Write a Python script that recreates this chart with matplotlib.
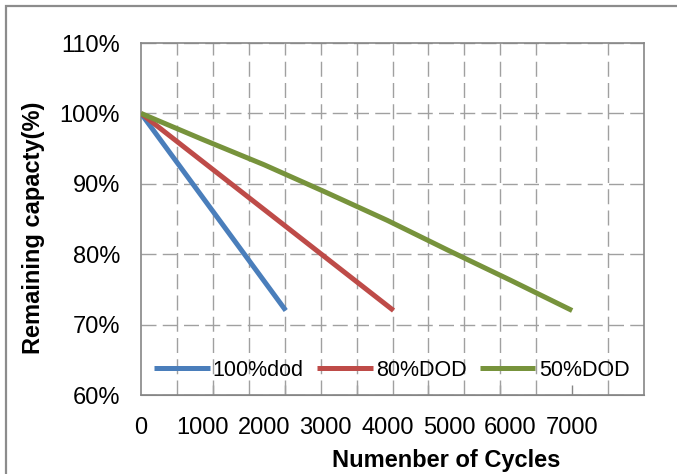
import numpy as np
import matplotlib.pyplot as plt
from matplotlib.patches import Rectangle

plt.rcParams['font.family'] = ['Liberation Sans', 'DejaVu Sans']
plt.rcParams['lines.scale_dashes'] = False

# data
cyc_100 = [0, 2350]
cap_100 = [100, 72]
cyc_80 = [0, 4100]
cap_80 = [100, 72]
cyc_50 = [0, 1000, 2000, 3000, 4000, 5000, 6000, 7000]
cap_50 = [100, 96.3, 92.7, 88.8, 84.8, 80.5, 76.3, 72]

labels = ["100%dod", "80%DOD", "50%DOD"]
colors = ["#4A7EBB", "#BE4B48", "#77933C"]

x_labels = [0, 1000, 2000, 3000, 4000, 5000, 6000, 7000]
y_ticks = [60, 70, 80, 90, 100, 110]

gray = "#868686"
grid_step = 7000 / 12
xmax = grid_step * 14

fig = plt.figure(figsize=(6.77, 4.74), dpi=100)
ax = fig.add_axes([141 / 677, 79 / 474, 503 / 677, 352 / 474])

for xs, ys, lab, c in zip([cyc_100, cyc_80, cyc_50], [cap_100, cap_80, cap_50],
                          labels, colors):
    ax.plot(xs, ys, color=c, linewidth=3.6, label=lab, solid_capstyle="butt", zorder=3)

ax.set_xlim(0, xmax)
ax.set_ylim(60, 110)

ax.set_xticks(x_labels)
ax.set_xticklabels([str(v) for v in x_labels])
ax.set_xticks(np.arange(grid_step, xmax, grid_step), minor=True)
ax.set_yticks(y_ticks)
ax.set_yticklabels([f"{v}%" for v in y_ticks])

ax.tick_params(axis="both", which="both", length=0, labelsize=17)
ax.tick_params(axis="x", pad=16)
ax.tick_params(axis="y", pad=15)

ax.grid(True, which="minor", axis="x", color="#a0a0a0", linewidth=1.0,
        linestyle=(0, (10.8, 4.5)))
ax.grid(True, which="major", axis="y", color="#a0a0a0", linewidth=1.0,
        linestyle=(0, (10.8, 4.5)))
ax.set_axisbelow(True)

for sp in ax.spines.values():
    sp.set_color(gray)
    sp.set_linewidth(1.2)

# small inward tick marks every two grid lines
sec = ax.secondary_xaxis("bottom")
sec.set_xticks(np.arange(2 * grid_step, xmax, 2 * grid_step))
sec.tick_params(direction="in", length=7, color=gray, width=1.0, labelbottom=False)
sec.spines["bottom"].set_color(gray)

ax.set_xlabel("Numenber of Cycles", fontsize=17, fontweight="bold")
ax.xaxis.set_label_coords(0.606, -0.152)
ax.set_ylabel("Remaining capacty(%)", fontsize=17, fontweight="bold")
ax.yaxis.set_label_coords(-0.19, 0.476)

ax.legend(loc="center", bbox_to_anchor=(0.498, 0.071), ncol=3, frameon=False,
          fontsize=15.5, handlelength=2.6, handletextpad=0.15, columnspacing=0.6,
          borderpad=0, borderaxespad=0)

# chart area border (cut off at right and bottom)
fig.patches.append(Rectangle((6 / 677, -0.1), 1.2, 1.1 - 6 / 474,
                             transform=fig.transFigure, fill=False,
                             edgecolor="#8c8c8c", linewidth=1.6))

fig.savefig("out.png", dpi=100)
